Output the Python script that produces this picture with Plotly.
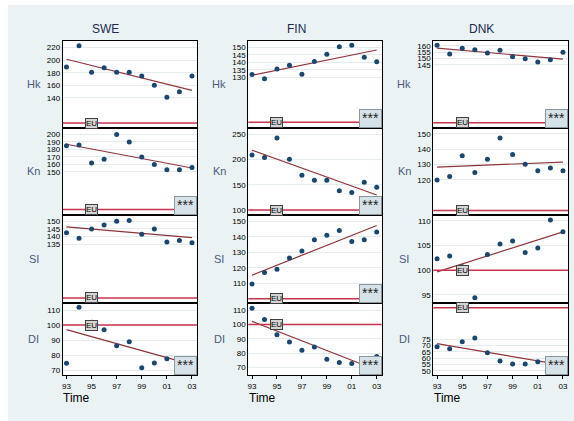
import numpy as np
import plotly.graph_objects as go

# ---------------- data ----------------
years = list(range(1993, 2004))
countries = ["SWE", "FIN", "DNK"]
indicators = ["Hk", "Kn", "SI", "DI"]
x_tick_vals = [1993, 1995, 1997, 1999, 2001, 2003]
x_tick_text = ["93", "95", "97", "99", "01", "03"]
eu_level = 100

swe_hk = [189, 223, 181, 188, 181, 181, 175, 160, 141, 150, 175]
swe_kn = [185, 186, 162, 167, 200, 190, 170, 160, 153, 153, 156]
swe_si = [142.5, 139, 145, 147.5, 150, 150.5, 141.5, 145, 136.5, 137.5, 136]
swe_di = [74.5, 111.8, 101.8, 96.9, 86.2, 88.9, 71.5, 74.7, 77.5, 77, 77.5]

fin_hk = [131.8, 129.1, 135.6, 138.1, 132, 140.6, 145.3, 150.4, 151.3, 143.4, 140.3]
fin_kn = [209, 204, 243, 201, 169, 159, 159, 138, 135, 155, 145]
fin_si = [109.5, 117, 119, 126.3, 130.8, 138, 141, 144, 137, 138, 143]
fin_di = [111.2, 103.5, 92.9, 87.8, 82, 84.3, 75.9, 73.6, 72.9, 76, 77.8]

dnk_hk = [160.3, 153.5, 158, 156.9, 154.3, 156.4, 151.4, 149.9, 147.3, 149.1, 154.9]
dnk_kn = [120, 122.2, 135.7, 124.8, 133.5, 147.3, 136.6, 130.2, 125.9, 127.8, 125.9]
dnk_si = [102.3, 102.9, 100.7, 94.4, 103.2, 105.3, 105.9, 103.6, 104.5, 110.2, 107.8]
dnk_di = [69.2, 67.6, 73.1, 76, 64.4, 57.9, 55.5, 55.5, 57.3, 58, 59]

# y tick labels per panel
swe_ticks = [[140, 160, 180, 200, 220], [150, 160, 170, 180, 190, 200],
             [135, 140, 145, 150], [70, 80, 90, 100, 110]]
fin_ticks = [[130, 135, 140, 145, 150], [100, 150, 200, 250],
             [110, 120, 130, 140, 150], [70, 80, 90, 100, 110]]
dnk_ticks = [[145, 150, 155, 160], [120, 130, 140, 150],
             [95, 100, 105, 110], [50, 55, 60, 65, 70, 75]]

# significance marker shown (***)
swe_sig = [False, True, False, True]
fin_sig = [True, True, True, True]
dnk_sig = [True, False, False, True]

series = {"SWE": [swe_hk, swe_kn, swe_si, swe_di],
          "FIN": [fin_hk, fin_kn, fin_si, fin_di],
          "DNK": [dnk_hk, dnk_kn, dnk_si, dnk_di]}
ticks = {"SWE": swe_ticks, "FIN": fin_ticks, "DNK": dnk_ticks}
sig = {"SWE": swe_sig, "FIN": fin_sig, "DNK": dnk_sig}

# ---------------- layout geometry (pixels) ----------------
W, H = 574, 421
cols_px = [(62.7, 197.0), (248.3, 381.7), (433.3, 568.0)]
rows_px = [(40.7, 127.5), (127.5, 215.0), (215.0, 302.7), (302.7, 375.0)]
y_ranges = {"SWE": [[93, 231], [92.5, 209.3], [96.9, 154.1], [66.7, 114.9]],
            "FIN": [[96.5, 154.4], [90.1, 263.8], [97.5, 154], [64.9, 115.1]],
            "DNK": [[96.3, 163.9], [97.1, 154.2], [93.4, 111.2], [46.8, 103.9]]}
x_range = [1992.7, 2003.4]
title_x = [105.5, 296, 481.7]

BG = "#eaf2f3"
NAVY = "#1a476f"
MAROON = "#90353b"
EURED = "#c8324f"
FONT = "Liberation Sans, Arial, sans-serif"

fig = go.Figure()
annotations = []
shapes = [
    dict(type="rect", xref="paper", yref="paper", x0=0, x1=1, y0=1 - 5 / H, y1=1,
         fillcolor="white", line=dict(width=0), layer="below"),
    dict(type="rect", xref="paper", yref="paper", x0=0, x1=8 / W, y0=0, y1=1,
         fillcolor="white", line=dict(width=0), layer="below"),
]
layout_axes = {}

for c, country in enumerate(countries):
    x0p, x1p = cols_px[c]
    for r, ind in enumerate(indicators):
        k = r * 3 + c + 1
        xs = "x" if k == 1 else f"x{k}"
        ys = "y" if k == 1 else f"y{k}"
        xa = "xaxis" if k == 1 else f"xaxis{k}"
        ya = "yaxis" if k == 1 else f"yaxis{k}"
        t0p, b0p = rows_px[r]
        vals = series[country][r]
        bottom = (r == len(indicators) - 1)

        slope, icpt = np.polyfit(years, vals, 1)
        fx = [years[0], years[-1]]
        fy = [slope * v + icpt for v in fx]
        fig.add_trace(go.Scatter(x=fx, y=fy, mode="lines", xaxis=xs, yaxis=ys,
                                 line=dict(color=MAROON, width=1.2),
                                 showlegend=False, hoverinfo="skip"))
        fig.add_trace(go.Scatter(x=years, y=vals, mode="markers", xaxis=xs, yaxis=ys,
                                 marker=dict(color=NAVY, size=5),
                                 showlegend=False))

        layout_axes[xa] = dict(
            domain=[x0p / W, x1p / W], anchor=ys, range=x_range,
            showgrid=False, zeroline=False, showline=True, mirror=True,
            linecolor="black", linewidth=1,
            tickvals=x_tick_vals, ticktext=x_tick_text,
            showticklabels=bottom, ticks="outside" if bottom else "",
            ticklen=3, tickcolor="black", tickwidth=1,
            tickfont=dict(size=8, color="black", family=FONT))
        layout_axes[ya] = dict(
            domain=[1 - b0p / H, 1 - t0p / H], anchor=xs,
            range=y_ranges[country][r], tickvals=ticks[country][r],
            showgrid=True, gridcolor="#e4ecee", gridwidth=1,
            zeroline=False, showline=True, mirror=True,
            linecolor="black", linewidth=1, ticks="",
            tickfont=dict(size=8, color="black", family=FONT))

        shapes.append(dict(type="line", xref=f"{xs} domain", yref=ys,
                           x0=0, x1=1, y0=eu_level, y1=eu_level,
                           line=dict(color=EURED, width=1.5)))
        annotations.append(dict(x=1995, y=eu_level, xref=xs, yref=ys, text="EU",
                                showarrow=False, bgcolor="#d4d4d4",
                                bordercolor="#404040", borderwidth=1, borderpad=0,
                                font=dict(size=8, color="black", family=FONT)))
        if sig[country][r]:
            annotations.append(dict(x=1, y=0, xref=f"{xs} domain", yref=f"{ys} domain",
                                    xanchor="right", yanchor="bottom", text="***",
                                    showarrow=False, width=21, height=17, valign="top",
                                    bgcolor="#d6e1e8", bordercolor="#8a98a2",
                                    borderwidth=1, borderpad=0,
                                    font=dict(size=14, color="#222222", family=FONT)))
        # row label
        annotations.append(dict(x=(x0p - 29) / W, y=1 - (t0p + b0p) / 2 / H,
                                xref="paper", yref="paper", text=ind, showarrow=False,
                                xanchor="center", yanchor="middle",
                                font=dict(size=11, color="#4a5a80", family=FONT)))
    # column title
    annotations.append(dict(x=title_x[c] / W, y=1 - 29 / H, xref="paper", yref="paper",
                            text=country, showarrow=False, xanchor="center",
                            yanchor="middle",
                            font=dict(size=12, color="#1c2b50", family=FONT)))
    annotations.append(dict(x=(x0p - 1.5) / W, y=1 - 398 / H, xref="paper", yref="paper",
                            text="Time", showarrow=False, xanchor="left",
                            yanchor="middle",
                            font=dict(size=12, color="black", family=FONT)))

fig.update_layout(width=W, height=H, margin=dict(l=0, r=0, t=0, b=0),
                  paper_bgcolor=BG, plot_bgcolor="white",
                  font=dict(family=FONT), showlegend=False,
                  annotations=annotations, shapes=shapes, **layout_axes)

fig.write_html("out.html")
